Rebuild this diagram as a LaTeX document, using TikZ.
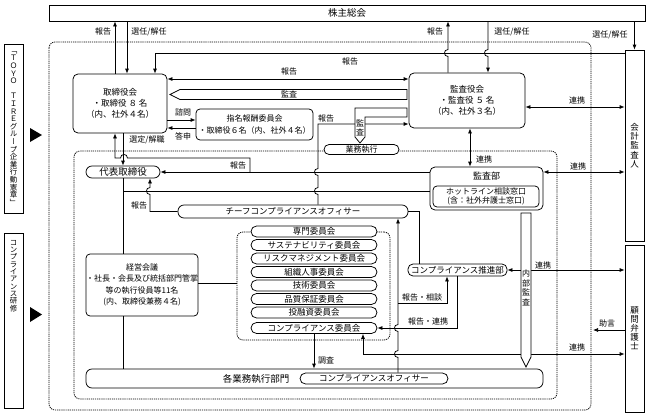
\documentclass[tikz,border=0pt]{standalone}
\usepackage{fontspec}
\setmainfont{Noto Sans CJK JP}
\newfontfamily\vfont[RawFeature=+vert]{Noto Sans CJK JP}
\usetikzlibrary{arrows.meta}

\begin{document}
\begin{tikzpicture}[x=1pt,y=-1pt]
	\tikzstyle{Box}   = [draw, rectangle, fill=white, line width=0.75pt, inner sep=0pt, align=center, font=\fontsize{8.5}{11}\selectfont]
	\tikzstyle{RBox}  = [Box, rounded corners=5pt]
	\tikzstyle{Pill}  = [Box, rounded corners=5.5pt]
	\tikzstyle{Stack} = [Pill, minimum width=126pt, minimum height=11pt]
	\tikzstyle{Vert}  = [Box, font=\vfont\fontsize{7.5}{7.6}\selectfont]
	\tikzstyle{Lbl}   = [inner sep=0pt, align=center, font=\fontsize{8}{9}\selectfont]
	\tikzstyle{Ln}    = [line width=0.75pt]
	\tikzstyle{Arr}   = [Ln, -{Latex[length=5pt,width=4pt]}]
	\tikzstyle{DArr}  = [Ln, {Latex[length=5pt,width=4pt]}-{Latex[length=5pt,width=4pt]}]
	\tikzstyle{Frame} = [line width=0.75pt, dash pattern=on 1.2pt off 0.9pt, rounded corners=6pt]
	\tikzstyle{Blk}   = [Ln, fill=white]

	\useasboundingbox (0,0) rectangle (648,416);

	% dotted frames
	\draw [Frame] (49,42) rectangle (591,410);
	\draw [Frame] (74,151) rectangle (557,399);

	% left side
	\node (code) at (13.5,128.5) [Vert, minimum width=19pt, minimum height=169pt] {「\\Ｔ\\Ｏ\\Ｙ\\Ｏ\\　\\Ｔ\\Ｉ\\Ｒ\\Ｅ\\グ\\ル\\ー\\プ\\企\\業\\行\\動\\憲\\章\\」};
	\node (train) at (13.5,320.5) [Box, minimum width=19pt, minimum height=175pt] {};
	\node (trainT) at (13.5,276) [Lbl, font=\vfont\fontsize{7.5}{7.3}\selectfont] {コ\\ン\\プ\\ラ\\イ\\ア\\ン\\ス\\研\\修};
	\fill (30,128) -- (42,135) -- (30,142) -- cycle;
	\fill (30,307) -- (42,314.5) -- (30,322) -- cycle;

	% boxes
	\node (kabu) at (347,13) [Box, minimum width=596pt, minimum height=16pt, font=\fontsize{9.5}{11}\selectfont] {株主総会};
	\node (tori) at (120,103.5) [RBox, minimum width=94pt, minimum height=59pt] {取締役会\\・取締役 ８ 名\\（内、社外４名）};
	\node (kansa) at (467,100.5) [RBox, minimum width=116pt, minimum height=55pt] {監査役会\\・監査役 ５ 名\\（内、社外３名）};
	\node (kaikei) at (634.5,145.5) [Box, minimum width=19pt, minimum height=191pt, font=\vfont\fontsize{8.5}{9.3}\selectfont] {会\\計\\監\\査\\人};
	\node (komon) at (634.5,328.5) [Box, minimum width=19pt, minimum height=167pt, font=\vfont\fontsize{8.5}{9}\selectfont] {顧\\問\\弁\\護\\士};
	\node (shimei) at (254.5,124.5) [RBox, rounded corners=4pt, minimum width=117pt, minimum height=31pt, font=\fontsize{8}{12}\selectfont] {指名報酬委員会\\・取締役６名（内、社外４名）};
	\node (gyomu) at (361.5,149.5) [Pill, rounded corners=5pt, minimum width=75pt, minimum height=10pt, font=\fontsize{8}{9}\selectfont] {業務執行};
	\node (daihyo) at (123,172) [Pill, rounded corners=6pt, minimum width=74pt, minimum height=12pt, font=\fontsize{9.5}{10}\selectfont] {代表取締役};
	\node (kansabu) at (486.5,188.5) [RBox, minimum width=113pt, minimum height=43pt] {};
	\node (kansabuT) at (486.5,176.5) [Lbl, font=\fontsize{9}{10}\selectfont] {監査部};
	\node (hotline) at (486,196.5) [RBox, rounded corners=4pt, minimum width=106pt, minimum height=21pt, font=\fontsize{8}{9}\selectfont] {ホットライン相談窓口\\(含：社外弁護士窓口)};
	\node (chief) at (293,211.5) [Pill, rounded corners=6pt, minimum width=230pt, minimum height=13pt] {チーフコンプライアンスオフィサー};
	\node (keiei) at (142,285) [RBox, rounded corners=4pt, minimum width=112pt, minimum height=62pt, font=\fontsize{8}{11.5}\selectfont] {経営会議\\・社長・会長及び統括部門管掌\\等の執行役員等11名\\(内、取締役兼務４名)};
	\node (cframe) at (313.5,286) [Frame, draw, minimum width=153pt, minimum height=108pt] {};
	\node (c1) at (314,231.5) [Stack] {専門委員会};
	\node (c2) at (314,245) [Stack] {サステナビリティ委員会};
	\node (c3) at (314,258.5) [Stack] {リスクマネジメント委員会};
	\node (c4) at (314,272) [Stack] {組織人事委員会};
	\node (c5) at (314,285.5) [Stack] {技術委員会};
	\node (c6) at (314,299) [Stack] {品質保証委員会};
	\node (c7) at (314,312.5) [Stack] {投融資委員会};
	\node (c8) at (314,328) [Stack] {コンプライアンス委員会};
	\node (suishin) at (457.5,270) [Pill, rounded corners=5pt, minimum width=99pt, minimum height=12pt] {コンプライアンス推進部};
	\node (kakubu) at (314.5,378.5) [RBox, rounded corners=6pt, minimum width=457pt, minimum height=19pt] {};
	\node (kakubuT) at (256,378.5) [Lbl, font=\fontsize{9.5}{10}\selectfont] {各業務執行部門};
	\node (officer) at (374,378.5) [Pill, minimum width=148pt, minimum height=11pt] {コンプライアンスオフィサー};

	\coordinate (jct) at (250,172);
	\coordinate (org) at (daihyo.south |- 0,191);
	\coordinate (br) at (398,303);
	\coordinate (adv) at (593,330);

	% shareholders
	\draw [Arr] (tori.north -| 115,0) -- (kabu.south -| 115,0);
	\draw [Arr] (kabu.south -| 127,0) -- (tori.north -| 127,0);
	\draw [Arr] (kansa.north -| 448,0) -- (448,56.5) .. controls (443.3,56.5) and (443.3,49.5) .. (448,49.5) -- (kabu.south -| 448,0);
	\draw [Arr] (kabu.south -| 488,0) -- (488,49.5) .. controls (483.3,49.5) and (483.3,56.5) .. (488,56.5) -- (kansa.north -| 488,0);
	\draw [Arr] (kabu.south -| kaikei.north) -- (kaikei.north);
	\draw [Arr] (kaikei.west |- 0,53) -| (tori.north -| 155,0);

	% board and auditors
	\draw [DArr] (tori.east |- 0,79) -- (kansa.west |- 0,79);
	\draw [DArr] (kansa.east |- 0,107) -- (kaikei.west |- 0,107);
	\draw [Arr] (tori.east |- 0,120) -- (shimei.west |- 0,120);
	\draw [Arr] (shimei.west |- 0,128) -- (tori.east |- 0,128);
	\draw [Arr] (tori.south -| daihyo.north) -- (daihyo.north);
	\draw [DArr] (kansa.south -| 470,0) -- (kansabu.north -| 470,0);
	\draw [DArr] (kansabu.east |- 0,172) -- (kaikei.west |- 0,172);

	% audit dept reports
	\draw [Arr] (kansabu.west |- jct) -- (daihyo.east);
	\draw [Arr] (jct) -- (250,158) -- (127.5,158) .. controls (127.5,153.3) and (120.5,153.3) .. (120.5,158) -- (115,158) -- (tori.south -| 115,0);
	\draw [Ln] (daihyo.south) -- (keiei.north -| daihyo.south);
	\draw [Ln] (org) -- (kansabu.west |- org);

	% chief compliance officer
	\draw [Arr] (chief.west) -- (150,211.5) -- (150,194.5) .. controls (145.3,194.5) and (145.3,187.5) .. (150,187.5) -- (daihyo.south -| 150,0);
	\draw [Arr] (chief.north -| 318,0) -- (318,194.5) .. controls (313.3,194.5) and (313.3,187.5) .. (318,187.5) -- (318,175.5) .. controls (313.3,175.5) and (313.3,168.5) .. (318,168.5) -- (318,124) -- (kansa.west |- 0,124);
	\draw [Ln] (chief.east) -| (suishin.north -| 419,0);

	% management and committees
	\draw [Ln] (keiei.east |- 0,283) -- (cframe.west |- 0,283);
	\draw [Ln] (keiei.south -| daihyo.south) -- (kakubu.north -| daihyo.south);
	\draw [Arr] (c8.south) -- (kakubu.north -| c8.south);
	\draw [Arr] (officer.north -| 398,0) -- (398,357.5) .. controls (393.3,357.5) and (393.3,350.5) .. (398,350.5) -- (398,331.5) .. controls (393.3,331.5) and (393.3,324.5) .. (398,324.5) -- (chief.south -| 398,0);
	\draw [Arr] (br) -| (suishin.south -| 447,0);
	\draw [Arr] (suishin.south -| 457,0) |- (c8.east);

	% lawyers
	\draw [DArr] (suishin.east) -- (komon.west |- suishin.east);
	\draw [DArr] (c8.south -| 363,0) |- (komon.west |- 0,354);
	\draw [Arr] (komon.west |- adv) -- (adv);

	% block arrows
	\draw [Blk] (407,89.5) -- (180,89.5) -- (170,94.5) -- (180,99.5) -- (407,99.5) -- cycle;
	\node (audit1) at (289,94.5) [Lbl] {監査};
	\draw [Blk] (407,108) -- (355,108) -- (355,137) -- (360,143) -- (365,137) -- (365,117) -- (407,117) -- cycle;
	\node (audit2) at (360,128) [Lbl, font=\fontsize{8}{8.5}\selectfont] {監\\査};
	\draw [Blk] (521,213) -- (531,213) -- (531,357) -- (526,367) -- (521,357) -- cycle;
	\node (audit3) at (526,288) [Lbl, font=\fontsize{8}{9.5}\selectfont] {内\\部\\監\\査};

	% labels
	\node (l1) at (103,31.5) [Lbl] {報告};
	\node (l2) at (149,31.5) [Lbl] {選任/解任};
	\node (l3) at (435,31.5) [Lbl] {報告};
	\node (l4) at (512,31.5) [Lbl] {選任/解任};
	\node (l5) at (610,35) [Lbl] {選任/解任};
	\node (l6) at (350,61) [Lbl] {報告};
	\node (l7) at (289,71) [Lbl] {報告};
	\node (l8) at (577,100) [Lbl] {連携};
	\node (l9) at (183,112) [Lbl] {諮問};
	\node (l10) at (183,136) [Lbl] {答申};
	\node (l11) at (326,118) [Lbl] {報告};
	\node (l12) at (147,140) [Lbl] {選定/解職};
	\node (l13) at (238,165) [Lbl] {報告};
	\node (l14) at (139,205) [Lbl] {報告};
	\node (l15) at (484,159) [Lbl] {連携};
	\node (l16) at (578,166) [Lbl] {連携};
	\node (l17) at (543,265) [Lbl] {連携};
	\node (l18) at (422,297) [Lbl] {報告・相談};
	\node (l19) at (428,321) [Lbl] {報告・連携};
	\node (l20) at (607,323) [Lbl] {助言};
	\node (l21) at (577,347) [Lbl] {連携};
	\node (l22) at (326,360) [Lbl] {調査};
\end{tikzpicture}
\end{document}
